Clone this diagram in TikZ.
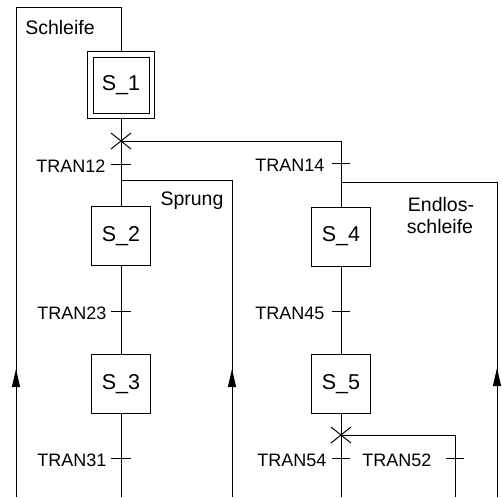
\documentclass[tikz,border=0pt]{standalone}
\usepackage{fontspec}
\setmainfont{Liberation Sans}
\usetikzlibrary{arrows.meta}
\begin{document}
\begin{tikzpicture}[x=1pt,y=-1pt, line width=1pt,
  stepbox/.style={draw, minimum size=59pt, inner sep=0pt, font=\fontsize{21.5}{25}\selectfont},
  lbl/.style={inner sep=0pt, font=\fontsize{18}{21}\selectfont},
  txt/.style={inner sep=0pt, font=\fontsize{19.5}{22}\selectfont},
  uparrow/.style={-{Triangle[length=18pt,width=8pt]}}]
\useasboundingbox (0,0) rectangle (502,497);
% steps
\node[stepbox, minimum size=56pt] (s1) at (121,85.5) {S\_1};
\node[draw, minimum size=67pt, inner sep=0pt] (s1o) at (121,85.5) {};
\node[stepbox] (s2) at (121,236) {S\_2};
\node[stepbox] (s3) at (121,384) {S\_3};
\node[stepbox] (s4) at (341,236.5) {S\_4};
\node[stepbox] (s5) at (341,384) {S\_5};
% coordinates
\coordinate (c1) at (121,141);
\coordinate (t12) at (121,164);
\coordinate (j2) at (121,180);
\coordinate (t23) at (121,311);
\coordinate (t31) at (121,458);
\coordinate (b3) at (121,497);
\coordinate (t14) at (341,163);
\coordinate (j4) at (341,182);
\coordinate (t45) at (341,311);
\coordinate (c5) at (341,435);
\coordinate (t54) at (341,458);
\coordinate (b5) at (341,497);
\coordinate (t52) at (455,458);
\coordinate (b52) at (455,497);
\coordinate (lb) at (16,497);
\coordinate (lt) at (16,8);
\coordinate (mt) at (121,8);
\coordinate (spb) at (232,497);
\coordinate (enb) at (497,497);
\coordinate (la) at (16,369);
\coordinate (sa) at (232,369);
\coordinate (ea) at (497,368);
% connectors
\draw (lb) -- (lt) -- (mt) -- (s1o.north);
\draw (s1o.south) -- (s2.north);
\draw (c1) -| (s4.north);
\draw (j2) -| (spb);
\draw (s2.south) -- (s3.north);
\draw (s3.south) -- (b3);
\draw (s4.south) -- (s5.north);
\draw (j4) -| (enb);
\draw (s5.south) -- (b5);
\draw (c5) -| (b52);
% arrows
\draw[uparrow] ([yshift=-20pt]la) -- (la);
\draw[uparrow] ([yshift=-20pt]sa) -- (sa);
\draw[uparrow] ([yshift=-20pt]ea) -- (ea);
% crosses
\draw ([shift={(-10,-8)}]c1) -- ([shift={(10,8)}]c1);
\draw ([shift={(-10,8)}]c1) -- ([shift={(10,-8)}]c1);
\draw ([shift={(-10,-8)}]c5) -- ([shift={(10,8)}]c5);
\draw ([shift={(-10,8)}]c5) -- ([shift={(10,-8)}]c5);
% transition ticks
\draw ([xshift=-10pt]t12) -- ([xshift=10pt]t12);
\draw ([xshift=-10pt]t23) -- ([xshift=10pt]t23);
\draw ([xshift=-10pt]t31) -- ([xshift=10pt]t31);
\draw ([xshift=-9pt]t14) -- ([xshift=9pt]t14);
\draw ([xshift=-9pt]t45) -- ([xshift=9pt]t45);
\draw ([xshift=-9pt]t54) -- ([xshift=9pt]t54);
\draw ([xshift=-9pt]t52) -- ([xshift=9pt]t52);
% labels
\node[lbl, anchor=east] (l12) at (106,166) {TRAN12};
\node[lbl, anchor=east] (l23) at (107,313) {TRAN23};
\node[lbl, anchor=east] (l31) at (107,460) {TRAN31};
\node[lbl, anchor=east] (l14) at (325,165) {TRAN14};
\node[lbl, anchor=east] (l45) at (325,313) {TRAN45};
\node[lbl, anchor=east] (l54) at (327,460) {TRAN54};
\node[lbl, anchor=east] (l52) at (432,460) {TRAN52};
\node[txt, anchor=base] (schl) at (60,35) {Schleife};
\node[txt, anchor=base] (spr) at (192,205) {Sprung};
\node[txt, anchor=base] (end1) at (441,211) {Endlos-};
\node[txt, anchor=base] (end2) at (440,233) {schleife};
\end{tikzpicture}
\end{document}
